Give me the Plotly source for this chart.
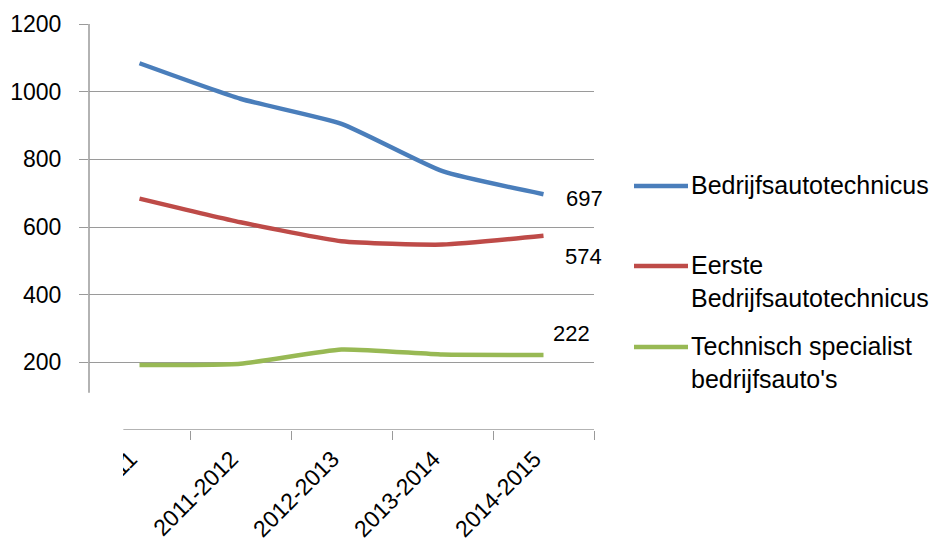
import plotly.graph_objects as go

# --- data ---
years = ["2010-2011", "2011-2012", "2012-2013", "2013-2014", "2014-2015"]
names = ["Bedrijfsautotechnicus",
         "Eerste<br>Bedrijfsautotechnicus",
         "Technisch specialist<br>bedrijfsauto's"]
bedrijfsautotechnicus = [1084, 979, 905, 765, 697]
eerste_bedrijfsautotechnicus = [684, 614, 558, 548, 574]
technisch_specialist = [192, 196, 238, 223, 222]
colors = ["#4A7EBB", "#BE4B48", "#98B954"]
y_ticks = [200, 400, 600, 800, 1000, 1200]

series = [bedrijfsautotechnicus, eerste_bedrijfsautotechnicus, technisch_specialist]

# page body has an 8px margin, so work in screen pixels and subtract it
OFF = 8
W, H = 949 - OFF, 549 - OFF
L, R, T, B = 89 - OFF, 949 - 594, 24 - OFF, 549 - 430
FONT = "Liberation Sans"


def px(x):
    return (x - OFF - L) / (W - L - R)


def py(y):
    return (H - B - (y - OFF)) / (H - T - B)


fig = go.Figure()
for vals, name, c in zip(series, names, colors):
    fig.add_trace(go.Scatter(x=years, y=vals, mode="lines", name=name,
                             line=dict(color=c, width=4.5, shape="spline", smoothing=0.5),
                             showlegend=False))

# --- data labels on the last point ---
label_offsets = [(41, -4), (40, -21), (28, 21)]
for vals, (dx, dy) in zip(series, label_offsets):
    fig.add_annotation(x=years[-1], y=vals[-1], text=str(vals[-1]), showarrow=False,
                       xshift=dx, yshift=dy, font=dict(size=22, color="black", family=FONT))

# --- legend drawn by hand ---
legend_y = [186, 266, 347]
for name, c, ly in zip(names, colors, legend_y):
    fig.add_shape(type="line", xref="paper", yref="paper",
                  x0=px(634), x1=px(688), y0=py(ly), y1=py(ly),
                  line=dict(color=c, width=4.5))
    fig.add_annotation(xref="paper", yref="paper", x=px(689), y=py(ly - 17),
                       xanchor="left", yanchor="top", align="left", showarrow=False,
                       text=name, font=dict(size=25, color="black", family=FONT))

# y axis line (stops short of the x axis) and x axis line
fig.add_shape(type="line", xref="paper", yref="y", x0=0, x1=0, y0=110, y1=1200,
              line=dict(color="#9a9a9a", width=1.5))
fig.add_shape(type="line", xref="x", yref="y", x0=-0.16, x1=4.5, y0=0, y1=0,
              line=dict(color="#9a9a9a", width=1.5))
# first category label is cut off in the source image
fig.add_shape(type="rect", xref="paper", yref="paper", x0=px(0), x1=px(123),
              y0=py(560), y1=py(400), fillcolor="white", line=dict(width=0), layer="above")

fig.update_layout(
    width=W, height=H,
    margin=dict(l=L, r=R, t=T, b=B),
    plot_bgcolor="white", paper_bgcolor="white",
    font=dict(family=FONT, size=22, color="black"),
)
fig.update_yaxes(range=[0, 1200], tickvals=y_ticks, showgrid=True, gridcolor="#9a9a9a",
                 gridwidth=1.2, zeroline=False, showline=False, ticks="outside",
                 ticklen=9, tickcolor="#9a9a9a", ticklabelstandoff=13,
                 tickfont=dict(size=23), automargin=False)
fig.update_xaxes(showgrid=False, zeroline=False, showline=False, tickangle=-45,
                 tickson="boundaries", ticks="outside", ticklen=9, tickcolor="#9a9a9a",
                 ticklabelstandoff=10, ticklabelshift=-9, tickfont=dict(size=23),
                 range=[-0.5, 4.5], automargin=False)

fig.write_html("out.html")
